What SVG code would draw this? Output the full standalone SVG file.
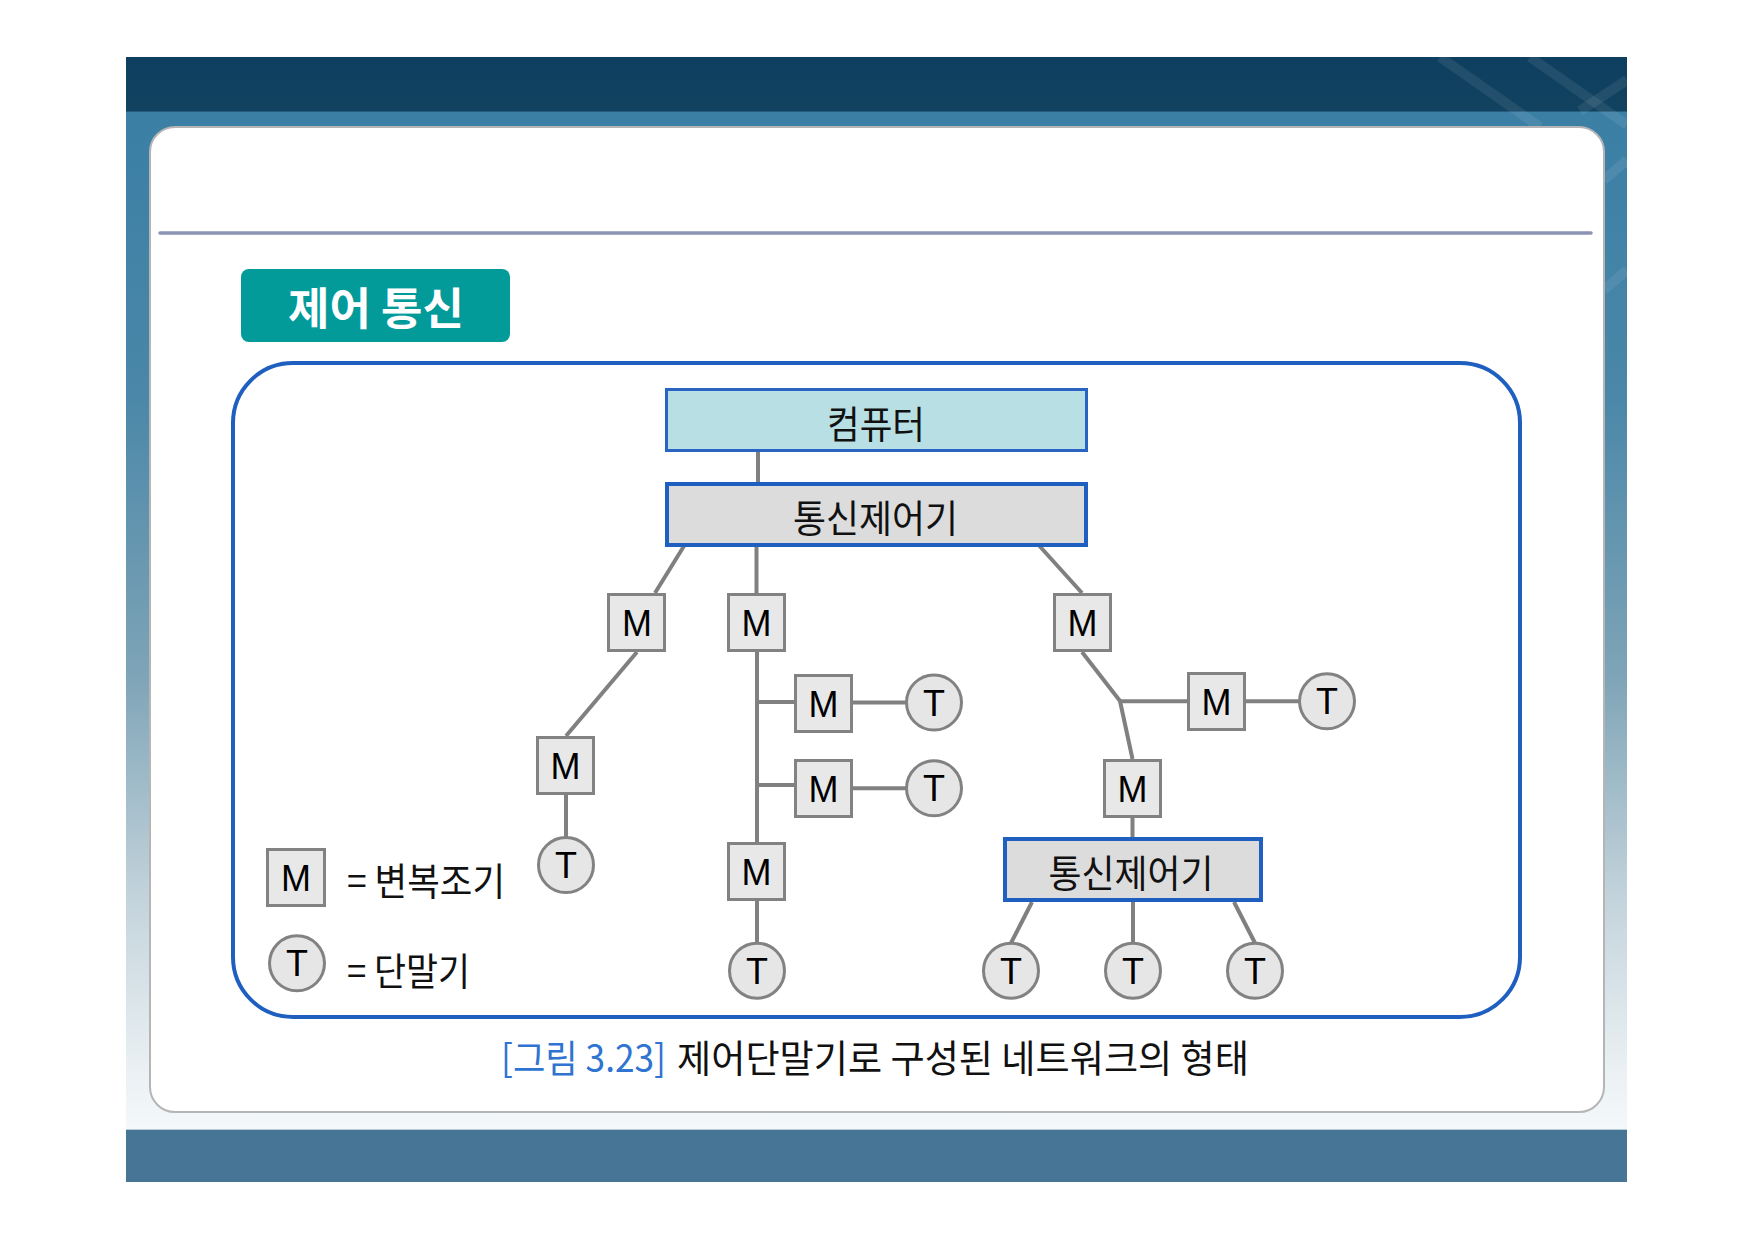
<svg xmlns="http://www.w3.org/2000/svg" width="1753" height="1240" viewBox="0 0 1753 1240">
  <defs>
    <linearGradient id="slideBg" x1="0" y1="57" x2="0" y2="1182" gradientUnits="userSpaceOnUse">
      <stop offset="0" stop-color="#0f3f60"/>
      <stop offset="0.048" stop-color="#11425f"/>
      <stop offset="0.049" stop-color="#3b7fa5"/>
      <stop offset="0.3" stop-color="#4a87a8"/>
      <stop offset="0.55" stop-color="#7ea4b7"/>
      <stop offset="0.75" stop-color="#c4d4dc"/>
      <stop offset="0.9" stop-color="#eaf0f3"/>
      <stop offset="0.953" stop-color="#f4f8fa"/>
      <stop offset="0.954" stop-color="#467595"/>
      <stop offset="1" stop-color="#467595"/>
    </linearGradient>
    <style>
      .conn { stroke: #808080; stroke-width: 4; fill: none; }
      .mbox { fill: #e8e8e8; stroke: #828282; stroke-width: 3; }
      .tcirc { fill: #e6e6e6; stroke: #828282; stroke-width: 3; }
      .lbl { font-family: "Liberation Sans", Arial, sans-serif; font-size: 36px; fill: #000; text-anchor: middle; }
      .kr { font-family: "Noto Sans CJK KR", "Noto Sans", sans-serif; font-size: 38px; fill: #111; }
      .ctrl { fill: #dcdcdc; stroke: #1f5fc0; stroke-width: 4; }
    </style>
  </defs>

  <!-- slide background -->
  <rect x="126" y="57" width="1501" height="1125" fill="url(#slideBg)"/>
  <g stroke="#ffffff" stroke-opacity="0.08" stroke-width="10" fill="none">
    <path d="M1440 57 L1540 127"/>
    <path d="M1530 57 L1627 125"/>
    <path d="M1580 111 L1627 80"/>
    <path d="M1604 180 L1627 160"/>
    <path d="M1604 290 L1627 270"/>
  </g>
  <rect x="150" y="127" width="1454" height="985" rx="25" fill="#ffffff" stroke="#b5b5b5" stroke-width="2"/>
  <line x1="160" y1="233" x2="1591" y2="233" stroke="#8b94b2" stroke-width="3.5" stroke-linecap="round"/>

  <!-- title -->
  <g id="title">
    <rect x="241" y="269" width="269" height="73" rx="8" fill="#039a9a"/>
    <text x="376" y="325" font-family="'Noto Sans CJK KR', sans-serif" font-size="44" font-weight="bold" fill="#ffffff" text-anchor="middle" textLength="176" lengthAdjust="spacingAndGlyphs">제어 통신</text>
  </g>

  <!-- frame -->
  <rect x="233" y="363" width="1287" height="654" rx="60" fill="none" stroke="#1f5fc0" stroke-width="4"/>

  <!-- connectors -->
  <g id="connectors">
    <line class="conn" x1="758" y1="452" x2="758" y2="482"/>
    <line class="conn" x1="684" y1="546" x2="655" y2="593"/>
    <line class="conn" x1="756.5" y1="546" x2="756.5" y2="593"/>
    <line class="conn" x1="1039.5" y1="546" x2="1082" y2="593"/>
    <line class="conn" x1="637" y1="652" x2="566" y2="736"/>
    <line class="conn" x1="566" y1="795" x2="566" y2="837"/>
    <line class="conn" x1="757" y1="652" x2="757" y2="842"/>
    <line class="conn" x1="757" y1="702" x2="794" y2="702"/>
    <line class="conn" x1="853" y1="702.5" x2="906.5" y2="702.5"/>
    <line class="conn" x1="757" y1="785" x2="794" y2="785"/>
    <line class="conn" x1="853" y1="788.3" x2="906.5" y2="788.3"/>
    <line class="conn" x1="757" y1="901" x2="757" y2="943"/>
    <line class="conn" x1="1082" y1="652" x2="1120" y2="701"/>
    <line class="conn" x1="1120" y1="701.3" x2="1187" y2="701.3"/>
    <line class="conn" x1="1246" y1="701.3" x2="1299.5" y2="701.3"/>
    <line class="conn" x1="1120" y1="701" x2="1132.5" y2="759"/>
    <line class="conn" x1="1132.5" y1="818" x2="1132.5" y2="837"/>
    <line class="conn" x1="1032" y1="902" x2="1011" y2="943"/>
    <line class="conn" x1="1133" y1="902" x2="1133" y2="943"/>
    <line class="conn" x1="1234" y1="902" x2="1255" y2="943"/>
  </g>

  <!-- main nodes -->
  <g id="computer">
    <rect x="666.5" y="389.5" width="420" height="61" fill="#b8dfe3" stroke="#2a64c2" stroke-width="3"/>
    <text class="kr" x="876" y="438" text-anchor="middle" textLength="98" lengthAdjust="spacingAndGlyphs">컴퓨터</text>
  </g>
  <g id="controller1">
    <rect class="ctrl" x="667" y="484" width="419" height="61"/>
    <text class="kr" x="875.5" y="532" text-anchor="middle" textLength="165" lengthAdjust="spacingAndGlyphs">통신제어기</text>
  </g>
  <g id="controller2">
    <rect class="ctrl" x="1005" y="839" width="256" height="61"/>
    <text class="kr" x="1131" y="887" text-anchor="middle" textLength="165" lengthAdjust="spacingAndGlyphs">통신제어기</text>
  </g>

  <!-- modems -->
  <g id="m1"><rect class="mbox" x="608.5" y="594.5" width="56" height="56"/><text class="lbl" x="637" y="635.5">M</text></g>
  <g id="m2"><rect class="mbox" x="728.5" y="594.5" width="56" height="56"/><text class="lbl" x="756.5" y="635.5">M</text></g>
  <g id="m3"><rect class="mbox" x="1054.5" y="594.5" width="56" height="56"/><text class="lbl" x="1082.5" y="635.5">M</text></g>
  <g id="m4"><rect class="mbox" x="537.5" y="737.5" width="56" height="56"/><text class="lbl" x="565.5" y="778.5">M</text></g>
  <g id="m5"><rect class="mbox" x="728.5" y="843.5" width="56" height="56"/><text class="lbl" x="756.5" y="884.5">M</text></g>
  <g id="m6"><rect class="mbox" x="795.5" y="675.5" width="56" height="56"/><text class="lbl" x="823.5" y="716.5">M</text></g>
  <g id="m7"><rect class="mbox" x="795.5" y="760.5" width="56" height="56"/><text class="lbl" x="823.5" y="801.5">M</text></g>
  <g id="m8"><rect class="mbox" x="1188.5" y="673.5" width="56" height="56"/><text class="lbl" x="1216.5" y="714.5">M</text></g>
  <g id="m9"><rect class="mbox" x="1104.5" y="760.5" width="56" height="56"/><text class="lbl" x="1132.5" y="801.5">M</text></g>

  <!-- terminals -->
  <g id="t1"><circle class="tcirc" cx="566" cy="865" r="27.5"/><text class="lbl" x="566" y="878">T</text></g>
  <g id="t2"><circle class="tcirc" cx="934" cy="702.5" r="27.5"/><text class="lbl" x="934" y="715.5">T</text></g>
  <g id="t3"><circle class="tcirc" cx="934" cy="788.3" r="27.5"/><text class="lbl" x="934" y="801.3">T</text></g>
  <g id="t4"><circle class="tcirc" cx="757" cy="970.7" r="27.5"/><text class="lbl" x="757" y="983.7">T</text></g>
  <g id="t5"><circle class="tcirc" cx="1327" cy="701.3" r="27.5"/><text class="lbl" x="1327" y="714.3">T</text></g>
  <g id="t6"><circle class="tcirc" cx="1011" cy="970.7" r="27.5"/><text class="lbl" x="1011" y="983.7">T</text></g>
  <g id="t7"><circle class="tcirc" cx="1133" cy="970.7" r="27.5"/><text class="lbl" x="1133" y="983.7">T</text></g>
  <g id="t8"><circle class="tcirc" cx="1255" cy="970.7" r="27.5"/><text class="lbl" x="1255" y="983.7">T</text></g>

  <!-- legend -->
  <g id="legend-m">
    <rect class="mbox" x="267.5" y="849.5" width="57" height="56"/>
    <text class="lbl" x="296" y="890.5">M</text>
    <text class="kr" x="347" y="895" textLength="158" lengthAdjust="spacingAndGlyphs">= 변복조기</text>
  </g>
  <g id="legend-t">
    <circle class="tcirc" cx="297" cy="963.3" r="27.5"/>
    <text class="lbl" x="297" y="976.3">T</text>
    <text class="kr" x="347" y="985" textLength="123" lengthAdjust="spacingAndGlyphs">= 단말기</text>
  </g>

  <!-- caption -->
  <g id="caption">
    <text class="kr" x="501" y="1072" style="fill:#2f74d0" textLength="165" lengthAdjust="spacingAndGlyphs">[그림 3.23]</text>
    <text class="kr" x="677" y="1072" textLength="572" lengthAdjust="spacingAndGlyphs">제어단말기로 구성된 네트워크의 형태</text>
  </g>
</svg>
